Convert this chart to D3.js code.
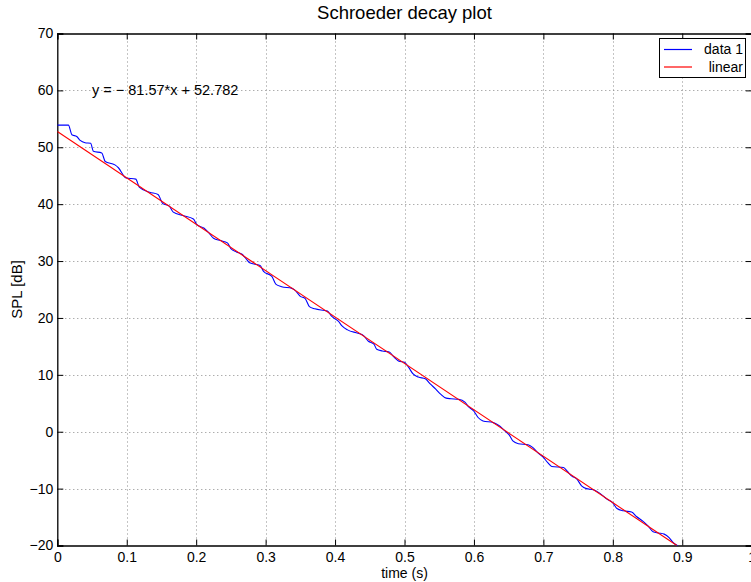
<!DOCTYPE html>
<html>
<head>
<meta charset="utf-8">
<script src="https://cdn.jsdelivr.net/npm/d3@7"></script>
<style>
  body { margin: 0; background: #fff; }
  svg { display: block; font-family: "Liberation Sans", Arial, sans-serif; }
</style>
</head>
<body>
<svg id="chart" width="751" height="582"></svg>
<script>
// measured decay curve (time in s, level in dB)
const timeS = [0, 0.016, 0.021, 0.028, 0.033, 0.040, 0.048, 0.052, 0.064, 0.069, 0.083, 0.088, 0.099,
  0.113, 0.118, 0.133, 0.145, 0.152, 0.161, 0.167, 0.181, 0.196, 0.201, 0.211, 0.218, 0.225, 0.235,
  0.245, 0.250, 0.258, 0.266, 0.272, 0.277, 0.292, 0.297, 0.309, 0.315, 0.323, 0.338, 0.342, 0.350,
  0.357, 0.363, 0.371, 0.389, 0.395, 0.405, 0.410, 0.418, 0.433, 0.441, 0.448, 0.456, 0.460, 0.468,
  0.478, 0.485, 0.492, 0.500, 0.506, 0.512, 0.520, 0.530, 0.537, 0.545, 0.552, 0.560, 0.567, 0.578,
  0.587, 0.592, 0.600, 0.606, 0.613, 0.628, 0.637, 0.645, 0.651, 0.656, 0.664, 0.678, 0.685, 0.693,
  0.700, 0.706, 0.712, 0.729, 0.734, 0.741, 0.748, 0.755, 0.762, 0.772, 0.781, 0.791, 0.800, 0.806,
  0.815, 0.827, 0.834, 0.844, 0.851, 0.858, 0.866, 0.874, 0.881, 0.887, 0.894];
const splDb = [53.9, 53.9, 52.2, 51.9, 51.2, 50.8, 50.7, 49.3, 49.0, 47.5, 46.9, 46.4, 44.6,
  44.4, 43.0, 42.1, 41.7, 40.1, 39.7, 38.6, 38.0, 37.4, 36.4, 35.8, 35.0, 34.0, 33.6,
  33.2, 32.2, 31.6, 31.2, 30.4, 29.7, 29.2, 28.2, 27.3, 25.9, 25.5, 25.2, 24.9, 23.8,
  23.4, 22.0, 21.6, 21.2, 20.3, 19.4, 18.6, 17.9, 17.3, 16.9, 15.9, 15.4, 14.5, 14.2,
  14.0, 13.1, 12.4, 12.2, 11.3, 10.2, 9.6, 9.3, 8.4, 7.5, 6.6, 5.9, 5.8, 5.7,
  5.2, 4.4, 3.6, 2.5, 1.9, 1.6, 1.0, 0.1, -0.6, -1.6, -2.1, -2.3, -2.8, -3.8,
  -4.5, -5.4, -6.1, -6.3, -6.9, -7.8, -8.3, -9.5, -10.0, -10.2, -10.8, -11.8, -12.5, -13.5,
  -13.9, -14.1, -14.9, -15.8, -16.6, -17.6, -17.8, -18.0, -18.6, -19.5, -20.1];

// linear fit end points
const fitX = [0, 0.8923];
const fitY = [52.782, -20];

const xTicks = [0, 0.1, 0.2, 0.3, 0.4, 0.5, 0.6, 0.7, 0.8, 0.9, 1];
const yTicks = [-20, -10, 0, 10, 20, 30, 40, 50, 60, 70];
const legendLabels = ["data 1", "linear"];
const fitLabel = "y = \u2212 81.57*x + 52.782";

const svg = d3.select("#chart");
const margin = { left: 57.3, top: 33.5, right: 751.7, bottom: 545.5 };

const x = d3.scaleLinear().domain([0, 1]).range([margin.left, margin.right]);
const y = d3.scaleLinear().domain([-20, 70]).range([margin.bottom, margin.top]);

const fmt = d => (d < 0 ? "\u2212" + Math.abs(d) : String(d));

svg.append("rect").attr("width", 751).attr("height", 582).attr("fill", "#fff");

// grid
const grid = svg.append("g").attr("stroke", "#8a8a8a").attr("stroke-width", 1)
  .attr("stroke-dasharray", "1,3");
grid.selectAll(".gx").data(xTicks.slice(1, -1)).enter().append("line")
  .attr("x1", d => Math.round(x(d)) + 0.5).attr("x2", d => Math.round(x(d)) + 0.5)
  .attr("y1", y(70)).attr("y2", y(-20));
grid.selectAll(".gy").data(yTicks.slice(1, -1)).enter().append("line")
  .attr("y1", d => Math.round(y(d)) + 0.5).attr("y2", d => Math.round(y(d)) + 0.5)
  .attr("x1", x(0)).attr("x2", x(1));

// axes with inward ticks
const tl = 6;
svg.append("g").attr("transform", `translate(0,${margin.bottom})`)
  .call(d3.axisBottom(x).tickValues(xTicks).tickSize(-tl).tickFormat(d => d))
  .call(g => g.selectAll("text").attr("y", 12).attr("dy", "0.35em"));
svg.append("g").attr("transform", `translate(0,${margin.top})`)
  .call(d3.axisTop(x).tickValues(xTicks).tickSize(-tl).tickFormat(""));
svg.append("g").attr("transform", `translate(${margin.left},0)`)
  .call(d3.axisLeft(y).tickValues(yTicks).tickSize(-tl).tickPadding(4).tickFormat(fmt));
svg.append("g").attr("transform", `translate(${margin.right},0)`)
  .call(d3.axisRight(y).tickValues(yTicks).tickSize(-tl).tickFormat(""));

svg.selectAll(".domain").attr("stroke", "#000").attr("stroke-width", 1.3);
svg.selectAll(".tick line").attr("stroke", "#000");
svg.selectAll(".tick text").attr("font-size", 14).attr("fill", "#000")
  .attr("font-family", "Liberation Sans, Arial, sans-serif");

// clip
svg.append("clipPath").attr("id", "clip").append("rect")
  .attr("x", margin.left).attr("y", margin.top)
  .attr("width", margin.right - margin.left).attr("height", margin.bottom - margin.top);

const data = timeS.map((t, i) => [t, splDb[i]]);
const fit = fitX.map((t, i) => [t, fitY[i]]);
const line = d3.line().x(d => x(d[0])).y(d => y(d[1])).curve(d3.curveMonotoneX);

svg.append("path").datum(data).attr("clip-path", "url(#clip)")
  .attr("fill", "none").attr("stroke", "#0000ff").attr("stroke-width", 1.1).attr("d", line);
svg.append("path").datum(fit).attr("clip-path", "url(#clip)")
  .attr("fill", "none").attr("stroke", "#ff0000").attr("stroke-width", 1.1)
  .attr("d", d3.line().x(d => x(d[0])).y(d => y(d[1])));

// fit equation
svg.append("text").attr("x", x(0.05)).attr("y", y(60)).attr("dy", "0.35em")
  .attr("font-size", 14.5).text(fitLabel);

// legend
const lg = svg.append("g");
lg.append("rect").attr("x", 659.5).attr("y", 38.5).attr("width", 86).attr("height", 39)
  .attr("fill", "#fff").attr("stroke", "#000").attr("stroke-width", 1);
const lgColors = ["#0000ff", "#ff0000"];
legendLabels.forEach((lab, i) => {
  const ly = 49.5 + i * 17.5;
  lg.append("line").attr("x1", 664).attr("x2", 692).attr("y1", ly).attr("y2", ly)
    .attr("stroke", lgColors[i]).attr("stroke-width", 1.2);
  lg.append("text").attr("x", 743).attr("y", ly).attr("dy", "0.35em")
    .attr("text-anchor", "end").attr("font-size", 14).text(lab);
});

// titles
svg.append("text").attr("x", (margin.left + margin.right) / 2).attr("y", 13).attr("dy", "0.35em")
  .attr("text-anchor", "middle").attr("font-size", 18.5).text("Schroeder decay plot");
svg.append("text").attr("x", (margin.left + margin.right) / 2).attr("y", 573.5).attr("dy", "0.35em")
  .attr("text-anchor", "middle").attr("font-size", 14).text("time (s)");
svg.append("text").attr("transform", `translate(17,${(margin.top + margin.bottom) / 2}) rotate(-90)`)
  .attr("dy", "0.35em").attr("text-anchor", "middle").attr("font-size", 15).text("SPL [dB]");
</script>
</body>
</html>
